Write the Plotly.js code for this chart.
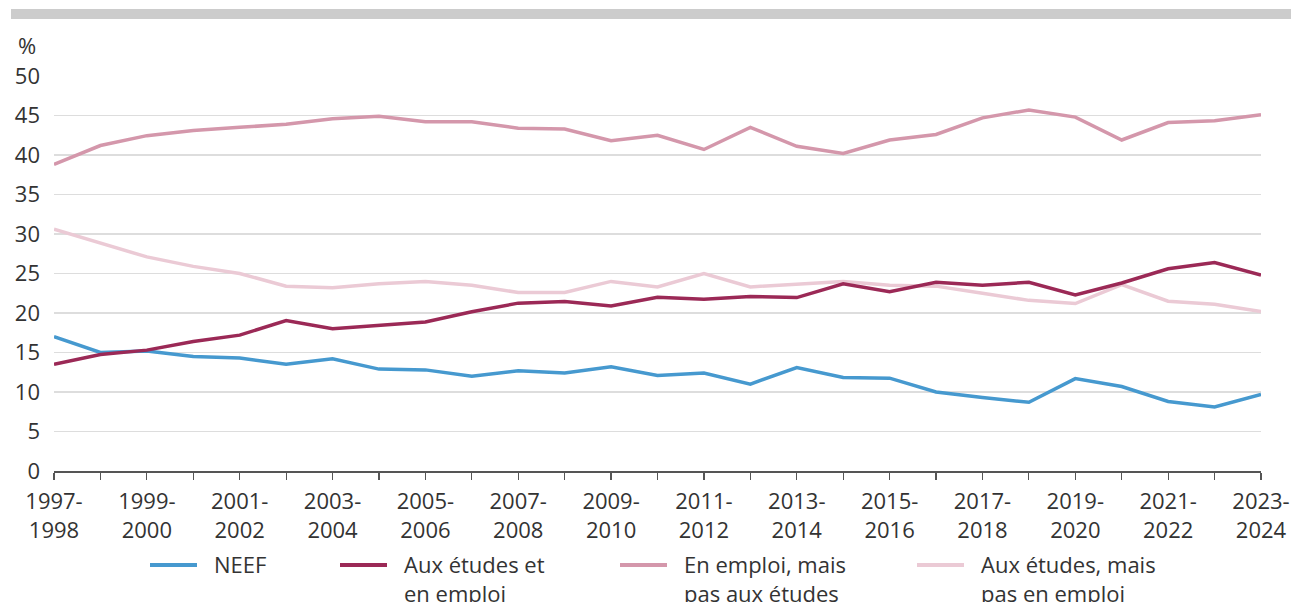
<!DOCTYPE html>
<html>
<head>
<meta charset="utf-8">
<script src="https://cdn.plot.ly/plotly-3.0.1.min.js"></script>
<style>html,body{margin:0;padding:0;background:#fff;}#chart{width:1291px;height:602px;}</style>
</head>
<body>
<div id="chart"></div>
<script>
const periods = ["1997-1998","1998-1999","1999-2000","2000-2001","2001-2002","2002-2003","2003-2004","2004-2005","2005-2006","2006-2007","2007-2008","2008-2009","2009-2010","2010-2011","2011-2012","2012-2013","2013-2014","2014-2015","2015-2016","2016-2017","2017-2018","2018-2019","2019-2020","2020-2021","2021-2022","2022-2023","2023-2024"];
const neef = [17.0,15.0,15.2,14.5,14.3,13.5,14.2,12.9,12.8,12.0,12.7,12.4,13.2,12.1,12.4,11.0,13.1,11.85,11.75,10.0,9.3,8.7,11.7,10.7,8.8,8.1,9.7];
const etudesEmploi = [13.5,14.75,15.3,16.4,17.2,19.05,18.0,18.4,18.85,20.15,21.25,21.45,20.9,22.0,21.75,22.1,21.95,23.7,22.7,23.9,23.5,23.9,22.3,23.8,25.6,26.4,24.8];
const emploiSeul = [38.8,41.2,42.45,43.1,43.5,43.9,44.6,44.9,44.2,44.2,43.4,43.3,41.8,42.5,40.7,43.5,41.1,40.2,41.9,42.6,44.7,45.7,44.8,41.9,44.1,44.35,45.1];
const etudesSeul = [30.6,28.9,27.1,25.9,25.0,23.4,23.2,23.7,24.0,23.5,22.6,22.6,24.0,23.3,25.0,23.3,23.7,24.0,23.5,23.4,22.5,21.6,21.2,23.6,21.5,21.1,20.2];
const seriesNames = ["NEEF","Aux études et<br>en emploi","En emploi, mais<br>pas aux études","Aux études, mais<br>pas en emploi"];
const seriesColors = ["#4699cf","#9b2956","#d497ab","#ebcad5"];
const tickText = periods.map((p,i)=> i%2===0 ? p.replace("-","-<br>") : "");

const L=54, R=1261, T=76, B=471;
const px = v => (v-L)/(R-L);
const py = v => (B-v)/(B-T);

const data = [
  {x:periods, y:etudesSeul, name:seriesNames[3], line:{color:seriesColors[3]}},
  {x:periods, y:emploiSeul, name:seriesNames[2], line:{color:seriesColors[2]}},
  {x:periods, y:neef, name:seriesNames[0], line:{color:seriesColors[0]}},
  {x:periods, y:etudesEmploi, name:seriesNames[1], line:{color:seriesColors[1]}}
].map(t=>Object.assign(t,{type:"scatter",mode:"lines",line:Object.assign(t.line,{width:3.5}),hoverinfo:"x+y+name"}));

const font = {family:"Open Sans, Noto Sans, sans-serif", size:22, color:"#333333"};
const legendX = [150,340,620,917];
const shapes = [
  {type:"rect",xref:"paper",yref:"paper",x0:px(11),x1:px(1291),y0:py(19),y1:py(9),fillcolor:"#cccccc",line:{width:0}}
];
const annotations = [
  {xref:"paper",yref:"paper",x:px(16),y:py(45),xanchor:"left",yanchor:"middle",text:"%",showarrow:false,font:font}
];
legendX.forEach((lx,i)=>{
  shapes.push({type:"line",xref:"paper",yref:"paper",x0:px(lx),x1:px(lx+47),y0:py(565),y1:py(565),line:{color:seriesColors[i],width:4}});
  annotations.push({xref:"paper",yref:"paper",x:px(lx+62),y:py(547),xanchor:"left",yanchor:"top",align:"left",text:seriesNames[i],showarrow:false,font:font});
});

const layout = {
  width:1291, height:602,
  margin:{l:L, r:1291-R, t:T, b:602-B, pad:0},
  paper_bgcolor:"#ffffff", plot_bgcolor:"#ffffff",
  showlegend:false,
  font:font,
  xaxis:{type:"category", range:[0,26], tickmode:"array", tickvals:periods, ticktext:tickText,
    showgrid:false, zeroline:false, showline:true, linecolor:"#555555", linewidth:1.5,
    ticks:"outside", ticklen:7, tickcolor:"#555555", tickwidth:1.2, tickangle:0, ticklabelstandoff:3, tickfont:font, automargin:false},
  yaxis:{range:[0,50], dtick:5, tick0:0, showgrid:true, gridcolor:"#dddddd", gridwidth:1.3, zeroline:false,
    showline:false, ticks:"", ticklabelstandoff:13, tickfont:font, automargin:false},
  shapes:shapes, annotations:annotations
};
Plotly.newPlot("chart", data, layout, {displayModeBar:false, staticPlot:true});
</script>
</body>
</html>
